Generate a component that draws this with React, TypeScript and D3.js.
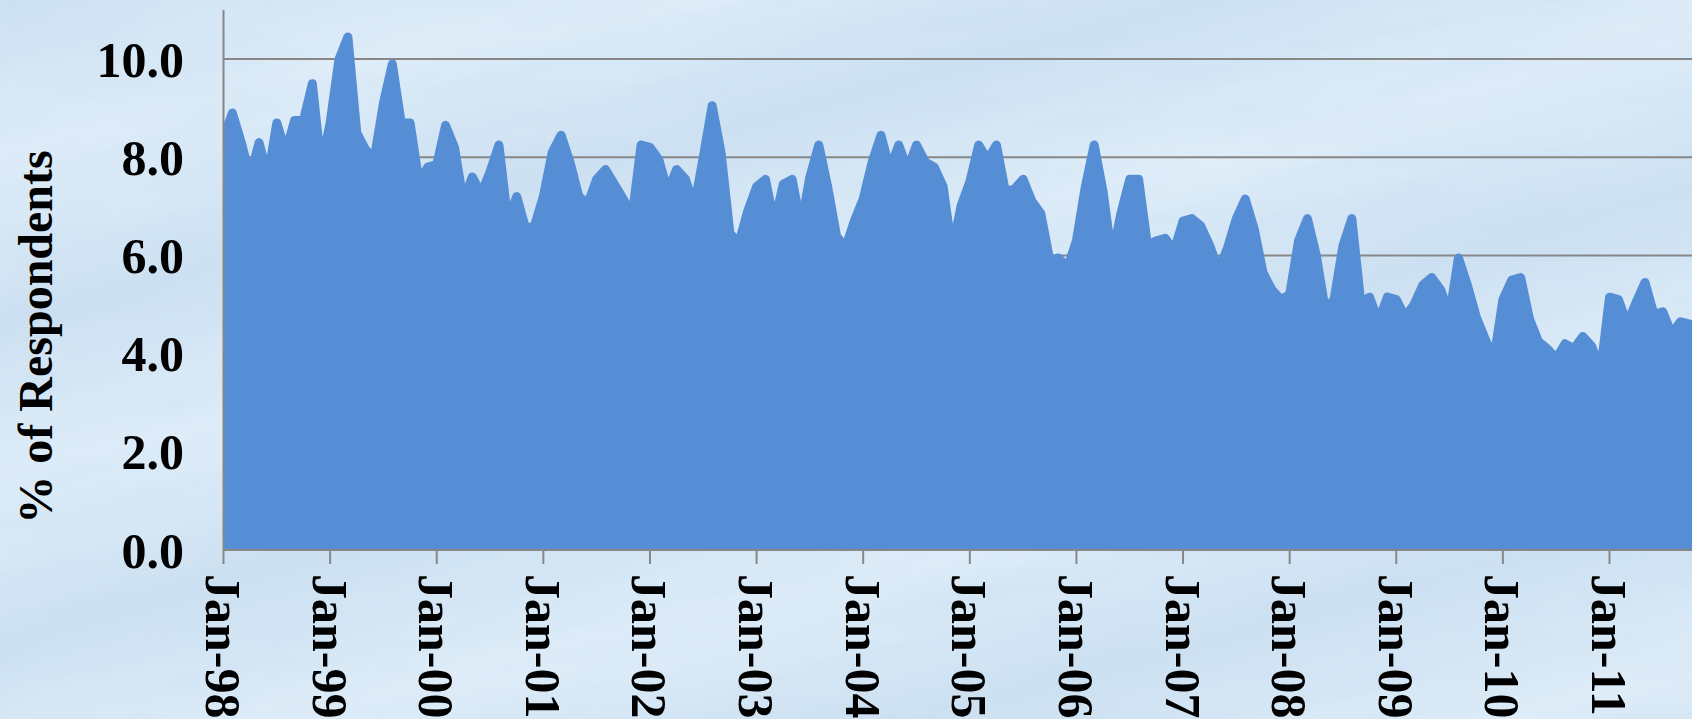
import React, { useRef, useEffect } from 'react';
import * as d3 from 'd3';

// monthly share of respondents, Jan-98 .. Nov-11
const y1998 = [8.4, 8.9, 8.3, 7.6, 8.3, 7.6, 8.7, 8.1, 8.75, 8.75, 9.5, 7.8];
const y1999 = [8.7, 10.0, 10.45, 8.5, 8.15, 8.0, 9.1, 9.9, 8.7, 8.7, 7.5, 7.8];
const y2000 = [7.85, 8.65, 8.2, 7.1, 7.6, 7.25, 7.7, 8.25, 6.7, 7.2, 6.55, 6.6];
const y2001 = [7.2, 8.1, 8.45, 7.9, 7.2, 7.05, 7.55, 7.75, 7.45, 7.15, 6.8, 8.25];
const y2002 = [8.2, 7.95, 7.3, 7.75, 7.55, 7.0, 8.0, 9.05, 8.1, 6.45, 6.25, 6.9];
const y2003 = [7.4, 7.55, 6.65, 7.45, 7.55, 6.6, 7.6, 8.25, 7.4, 6.4, 6.15, 6.7];
const y2004 = [7.15, 7.9, 8.45, 7.75, 8.25, 7.75, 8.25, 7.9, 7.8, 7.4, 6.1, 7.0];
const y2005 = [7.5, 8.25, 7.95, 8.25, 7.3, 7.35, 7.55, 7.1, 6.85, 5.9, 5.95, 5.75];
const y2006 = [6.3, 7.4, 8.25, 7.3, 5.95, 6.85, 7.55, 7.55, 6.2, 6.3, 6.35, 6.1];
const y2007 = [6.7, 6.75, 6.6, 6.2, 5.7, 6.15, 6.75, 7.15, 6.55, 5.65, 5.3, 5.1];
const y2008 = [5.2, 6.3, 6.75, 6.0, 4.9, 5.1, 6.2, 6.75, 5.05, 5.15, 4.65, 5.15];
const y2009 = [5.1, 4.75, 5.0, 5.4, 5.55, 5.3, 4.8, 5.95, 5.4, 4.75, 4.3, 3.9];
const y2010 = [5.1, 5.5, 5.55, 4.7, 4.25, 4.1, 3.9, 4.2, 4.1, 4.35, 4.15, 3.65];
const y2011 = [5.15, 5.1, 4.6, 5.05, 5.45, 4.8, 4.85, 4.4, 4.65, 4.6, 4.55];

const values = [
  ...y1998, ...y1999, ...y2000, ...y2001, ...y2002, ...y2003, ...y2004,
  ...y2005, ...y2006, ...y2007, ...y2008, ...y2009, ...y2010, ...y2011,
];

const tickLabels = ['Jan-98', 'Jan-99', 'Jan-00', 'Jan-01', 'Jan-02', 'Jan-03', 'Jan-04',
  'Jan-05', 'Jan-06', 'Jan-07', 'Jan-08', 'Jan-09', 'Jan-10', 'Jan-11'];
const yTicks = [0, 2, 4, 6, 8, 10];

const W = 1692;
const H = 719;
const FONT = '"Liberation Serif", "Times New Roman", serif';

const App = () => {
  const ref = useRef<SVGSVGElement | null>(null);

  useEffect(() => {
    const svg = d3.select(ref.current);
    svg.selectAll('*').remove();

    // x: month index, Jan-98 = 0, Jan-11 = 156
    const x = d3.scaleLinear().domain([0, 156]).range([223.5, 1609.5]);
    const y = d3.scaleLinear().domain([0, 11]).range([550, 10]);

    const defs = svg.append('defs');

    // background: pale blue with soft diagonal streaks + grain
    const grad = defs.append('linearGradient')
      .attr('id', 'streaks')
      .attr('gradientUnits', 'userSpaceOnUse')
      .attr('x1', 0).attr('y1', 0).attr('x2', 40).attr('y2', 150)
      .attr('spreadMethod', 'reflect');
    grad.append('stop').attr('offset', '0%').attr('stop-color', '#cde1f2');
    grad.append('stop').attr('offset', '45%').attr('stop-color', '#d7e8f6');
    grad.append('stop').attr('offset', '100%').attr('stop-color', '#e0eef9');

    const noise = defs.append('filter').attr('id', 'grain')
      .attr('x', 0).attr('y', 0).attr('width', '100%').attr('height', '100%');
    noise.append('feTurbulence')
      .attr('type', 'fractalNoise')
      .attr('baseFrequency', '0.004 0.03')
      .attr('numOctaves', 3)
      .attr('seed', 7)
      .attr('result', 't');
    noise.append('feColorMatrix')
      .attr('in', 't')
      .attr('type', 'matrix')
      .attr('values', '0 0 0 0 0.55  0 0 0 0 0.7  0 0 0 0 0.85  0 0 0 0.4 -0.05');

    defs.append('clipPath').attr('id', 'plot')
      .append('rect')
      .attr('x', x(0)).attr('y', 0)
      .attr('width', W - x(0)).attr('height', y(0));

    svg.append('rect')
      .attr('width', W).attr('height', H)
      .attr('fill', 'url(#streaks)');
    svg.append('g')
      .attr('transform', 'rotate(-12)')
      .append('rect')
      .attr('x', -200).attr('y', -200).attr('width', W + 600).attr('height', H + 600)
      .attr('filter', 'url(#grain)');

    // gridlines
    svg.append('g')
      .selectAll('line')
      .data(yTicks.filter((d) => d > 0))
      .enter()
      .append('line')
      .attr('x1', x(0)).attr('x2', W)
      .attr('y1', (d) => y(d)).attr('y2', (d) => y(d))
      .attr('stroke', '#878787')
      .attr('stroke-width', 2);

    // area + same-colour outline with round joins (gives the soft peaks)
    const plot = svg.append('g').attr('clip-path', 'url(#plot)');
    plot.append('path')
      .datum(values)
      .attr('d', d3.area<number>()
        .x((d, i) => x(i))
        .y0(y(0))
        .y1((d) => y(d)))
      .attr('fill', '#568ed6');
    plot.append('path')
      .datum(values)
      .attr('d', d3.line<number>()
        .x((d, i) => x(i))
        .y((d) => y(d)))
      .attr('fill', 'none')
      .attr('stroke', '#568ed6')
      .attr('stroke-width', 9)
      .attr('stroke-linejoin', 'round')
      .attr('stroke-linecap', 'round');

    // axes
    svg.append('line')
      .attr('x1', x(0)).attr('x2', x(0))
      .attr('y1', 10).attr('y2', y(0))
      .attr('stroke', '#878787').attr('stroke-width', 2);
    svg.append('line')
      .attr('x1', x(0)).attr('x2', W)
      .attr('y1', y(0)).attr('y2', y(0))
      .attr('stroke', '#878787').attr('stroke-width', 2);

    svg.append('g')
      .selectAll('line')
      .data(tickLabels)
      .enter()
      .append('line')
      .attr('x1', (d, i) => x(i * 12)).attr('x2', (d, i) => x(i * 12))
      .attr('y1', y(0)).attr('y2', y(0) + 14)
      .attr('stroke', '#878787').attr('stroke-width', 2);

    svg.append('g')
      .selectAll('text')
      .data(tickLabels)
      .enter()
      .append('text')
      .attr('transform', (d, i) => `translate(${x(i * 12)},574) rotate(90)`)
      .attr('dy', '0.35em')
      .attr('font-family', FONT)
      .attr('font-weight', 'bold')
      .attr('font-size', 50)
      .attr('fill', '#000')
      .text((d) => d);

    svg.append('g')
      .selectAll('text')
      .data(yTicks)
      .enter()
      .append('text')
      .attr('x', 184)
      .attr('y', (d) => y(d))
      .attr('dy', '0.35em')
      .attr('text-anchor', 'end')
      .attr('font-family', FONT)
      .attr('font-weight', 'bold')
      .attr('font-size', 50)
      .attr('fill', '#000')
      .text((d) => d.toFixed(1));

    svg.append('text')
      .attr('transform', 'translate(35,337) rotate(-90)')
      .attr('dy', '0.35em')
      .attr('text-anchor', 'middle')
      .attr('font-family', FONT)
      .attr('font-weight', 'bold')
      .attr('font-size', 48)
      .attr('fill', '#000')
      .text('% of Respondents');
  }, []);

  return (
    <svg
      ref={ref}
      width={W}
      height={H}
      style={{ position: 'absolute', left: 0, top: 0, display: 'block' }}
    />
  );
};

export default App;
